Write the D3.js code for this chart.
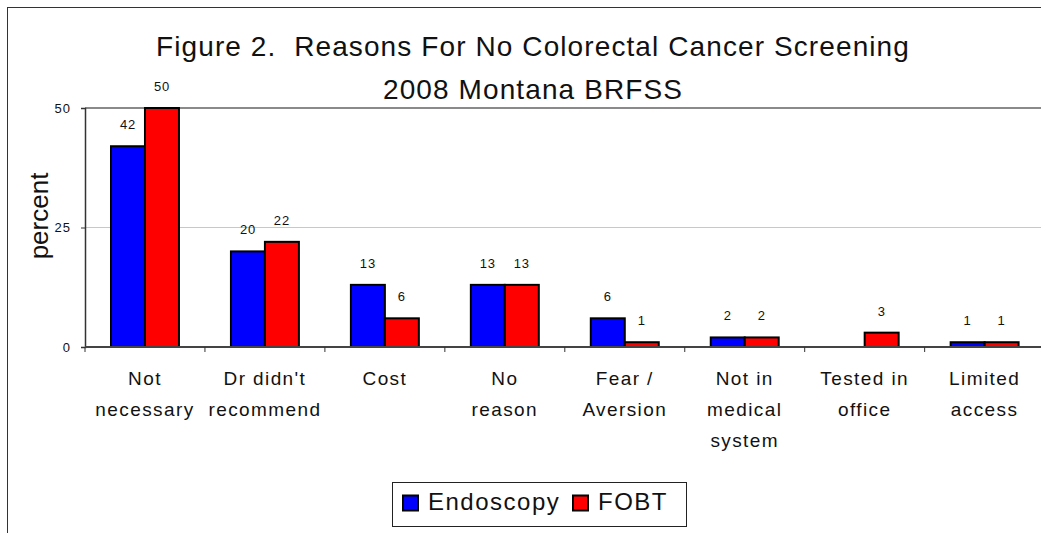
<!DOCTYPE html>
<html>
<head>
<meta charset="utf-8">
<script src="https://cdn.jsdelivr.net/npm/d3@7"></script>
<style>
  body { margin: 0; background: #fff; }
  svg { display: block; font-family: "Liberation Sans", Arial, sans-serif; }
</style>
</head>
<body>
<div id="chart"></div>
<script>
// category labels, one array of lines per category
const categories = [
    ['Not', 'necessary'],
    ["Dr didn't", 'recommend'],
    ['Cost'],
    ['No', 'reason'],
    ['Fear /', 'Aversion'],
    ['Not in', 'medical', 'system'],
    ['Tested in', 'office'],
    ['Limited', 'access']
];
const seriesNames = ['Endoscopy', 'FOBT'];
const endoscopy = [42, 20, 13, 13, 6, 2, null, 1];
const fobt = [50, 22, 6, 13, 1, 2, 3, 1];
const yTicks = [0, 25, 50];
const titleLines = ['Figure 2.  Reasons For No Colorectal Cancer Screening', '2008 Montana BRFSS'];

const colors = { Endoscopy: '#0000ff', FOBT: '#ff0000' };

const width = 1041, height = 533;
const svg = d3.select('#chart').append('svg')
    .attr('width', width)
    .attr('height', height);

// outer chart border (clipped at the right and bottom in the original)
svg.append('rect')
    .attr('x', 7.5).attr('y', 7.5)
    .attr('width', 1100).attr('height', 600)
    .attr('fill', 'none')
    .attr('stroke', '#333')
    .attr('stroke-width', 1);

const catIds = categories.map((c, i) => i);
const x0 = d3.scaleBand().domain(catIds).range([85, 1044.6]).padding(0);
const x1 = d3.scaleBand().domain(seriesNames).range([0, x0.bandwidth()])
    .paddingInner(0).paddingOuter(0.765);
const y = d3.scaleLinear().domain([0, 50]).range([347, 108]);

// title
svg.append('g').selectAll('text')
    .data(titleLines)
    .join('text')
    .attr('x', 533)
    .attr('y', (d, i) => 56 + i * 43)
    .attr('text-anchor', 'middle')
    .attr('xml:space', 'preserve')
    .style('white-space', 'pre')
    .style('font-size', '28px')
    .style('letter-spacing', '1.1px')
    .style('fill', '#111')
    .text(d => d);

// gridlines
svg.append('line')
    .attr('x1', 85).attr('x2', width)
    .attr('y1', y(25)).attr('y2', y(25))
    .attr('stroke', '#c8c8c8').attr('stroke-width', 1);
svg.append('line')
    .attr('x1', 85).attr('x2', width)
    .attr('y1', y(50)).attr('y2', y(50))
    .attr('stroke', '#8a8a8a').attr('stroke-width', 2);

// y axis
const yAxis = svg.append('g')
    .attr('transform', 'translate(85,0)')
    .call(d3.axisLeft(y).tickValues(yTicks).tickSize(4).tickPadding(10));
yAxis.select('.domain').attr('stroke', '#333').attr('stroke-width', 1.5);
yAxis.selectAll('.tick line').attr('stroke', '#333');
yAxis.selectAll('.tick text')
    .style('font-size', '13px')
    .style('letter-spacing', '1px')
    .style('font-family', '"Liberation Sans", Arial, sans-serif')
    .style('fill', '#111');

// y title
svg.append('text')
    .attr('transform', `translate(48,216) rotate(-90)`)
    .attr('text-anchor', 'middle')
    .style('font-size', '26px')
    .style('fill', '#111')
    .text('percent');

// bars
const rows = catIds.map(i => ({ i, values: [
    { key: 'Endoscopy', v: endoscopy[i] },
    { key: 'FOBT', v: fobt[i] }
] }));

const groups = svg.append('g').selectAll('g')
    .data(rows)
    .join('g')
    .attr('transform', d => `translate(${x0(d.i)},0)`);

groups.selectAll('rect')
    .data(d => d.values.filter(v => v.v != null))
    .join('rect')
    .attr('x', d => x1(d.key))
    .attr('y', d => y(d.v))
    .attr('width', x1.bandwidth())
    .attr('height', d => y(0) - y(d.v))
    .attr('fill', d => colors[d.key])
    .attr('stroke', '#000')
    .attr('stroke-width', 2);

groups.selectAll('text')
    .data(d => d.values.filter(v => v.v != null))
    .join('text')
    .attr('x', d => x1(d.key) + x1.bandwidth() / 2)
    .attr('y', d => y(d.v) - 17)
    .attr('text-anchor', 'middle')
    .style('font-size', '13px')
    .style('letter-spacing', '0.8px')
    .style('fill', '#111')
    .text(d => d.v);

// x axis line and ticks
svg.append('line')
    .attr('x1', 85).attr('x2', width)
    .attr('y1', y(0)).attr('y2', y(0))
    .attr('stroke', '#444').attr('stroke-width', 2);

svg.append('g').selectAll('line')
    .data(catIds)
    .join('line')
    .attr('x1', d => x0(d)).attr('x2', d => x0(d))
    .attr('y1', y(0)).attr('y2', y(0) + 5)
    .attr('stroke', '#333').attr('stroke-width', 1);

// category labels
const labels = svg.append('g').selectAll('text')
    .data(catIds)
    .join('text')
    .attr('x', d => x0(d) + x0.bandwidth() / 2)
    .attr('y', 385)
    .attr('text-anchor', 'middle')
    .style('font-size', '19px')
    .style('letter-spacing', '1.4px')
    .style('fill', '#111');

labels.selectAll('tspan')
    .data(d => categories[d])
    .join('tspan')
    .attr('x', function() { return d3.select(this.parentNode).attr('x'); })
    .attr('dy', (d, i) => i === 0 ? 0 : 31)
    .text(d => d);

// legend
const legend = svg.append('g');
legend.append('rect')
    .attr('x', 392.5).attr('y', 482.5)
    .attr('width', 294).attr('height', 44)
    .attr('fill', '#fff')
    .attr('stroke', '#222').attr('stroke-width', 1);

const legendX = [403, 573];
seriesNames.forEach((name, i) => {
    legend.append('rect')
        .attr('x', legendX[i]).attr('y', 495.5)
        .attr('width', 15).attr('height', 15)
        .attr('fill', colors[name])
        .attr('stroke', '#000').attr('stroke-width', 2);
    legend.append('text')
        .attr('x', legendX[i] + 25)
        .attr('y', 510)
        .style('font-size', '24px')
        .style('letter-spacing', '1.5px')
        .style('fill', '#111')
        .text(name);
});
</script>
</body>
</html>
